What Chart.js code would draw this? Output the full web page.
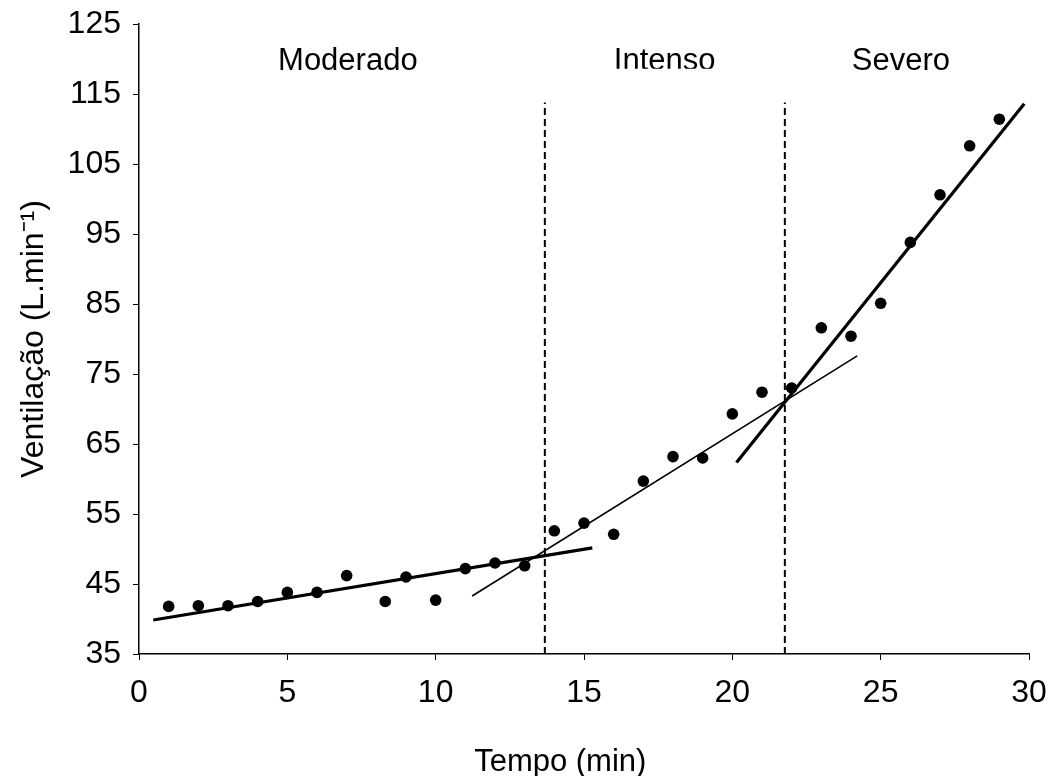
<!DOCTYPE html>
<html>
<head>
<meta charset="utf-8">
<script src="https://cdn.jsdelivr.net/npm/chart.js@4.4.1/dist/chart.umd.min.js"></script>
<style>
  html, body { margin: 0; padding: 0; background: #fff; }
  canvas { display: block; }
</style>
</head>
<body>
<canvas id="c" width="1056" height="776"></canvas>
<script>
// ---- data ----
const timeMin = [1, 2, 3, 4, 5, 6, 7, 8.3, 9, 10, 11, 12, 13, 14, 15, 16, 17, 18, 19, 20, 21, 22, 23, 24, 25, 26, 27, 28, 29];
const ventilation = [41.8, 41.9, 41.9, 42.5, 43.8, 43.8, 46.2, 42.5, 46.0, 42.7, 47.2, 48.0, 47.6, 52.6, 53.7, 52.1, 59.7, 63.2, 63.0, 69.3, 72.4, 73.0, 81.6, 80.4, 85.1, 93.8, 100.6, 107.6, 111.4];

const moderateFitX = [0.48, 15.28];
const moderateFitY = [39.86, 50.15];
const intenseFitX = [11.23, 24.21];
const intenseFitY = [43.29, 77.59];
const severeFitX = [20.14, 29.84];
const severeFitY = [62.34, 113.6];

const thresholdX = [13.68, 21.77];
const thresholdY = [35, 113.8];

const phaseNames = ["Moderado", "Intenso", "Severo"];
const xTicks = [0, 5, 10, 15, 20, 25, 30];
const yTicks = [35, 45, 55, 65, 75, 85, 95, 105, 115, 125];
const xTitle = "Tempo (min)";
const yTitle = "Ventilação (L.min⁻¹)";

const FONT = '"Liberation Sans", Arial, sans-serif';

function pts(xs, ys) { return xs.map((x, i) => ({ x: x, y: ys[i] })); }

const lineDs = (xs, ys, w, dash) => ({
  type: 'line',
  data: pts(xs, ys),
  borderColor: '#000',
  borderWidth: w,
  borderDash: dash || [],
  pointRadius: 0,
  showLine: true,
  fill: false,
  tension: 0
});

const datasets = [
  lineDs(moderateFitX, moderateFitY, 3.2),
  lineDs(intenseFitX, intenseFitY, 1.6),
  lineDs(severeFitX, severeFitY, 3.2),
  lineDs([thresholdX[0], thresholdX[0]], thresholdY, 2, [7, 4]),
  lineDs([thresholdX[1], thresholdX[1]], thresholdY, 2, [7, 4]),
  {
    type: 'scatter',
    data: pts(timeMin, ventilation),
    backgroundColor: '#000',
    borderColor: '#000',
    pointRadius: 5.8,
    pointBorderWidth: 0,
    showLine: false
  }
];

// phase labels and x-axis title (annotation text)
const textPlugin = {
  id: 'textLabels',
  afterDatasetsDraw(chart) {
    const ctx = chart.ctx;
    const xs = chart.scales.x, ys = chart.scales.y;
    const centres = [7.04, 17.72, 25.68];
    ctx.save();
    ctx.font = '31px ' + FONT;
    ctx.fillStyle = '#000';
    ctx.textAlign = 'center';
    ctx.textBaseline = 'alphabetic';
    phaseNames.forEach((name, i) => {
      const px = xs.getPixelForValue(centres[i]);
      const py = ys.getPixelForValue(118.4);
      ctx.save();
      if (i === 1) {
        ctx.beginPath();
        ctx.rect(px - 80, 0, 160, ys.getPixelForValue(118.6));
        ctx.clip();
      }
      ctx.fillText(name, px, py);
      ctx.restore();
    });
    // x-axis title
    ctx.font = '31px ' + FONT;
    ctx.fillText(xTitle, xs.getPixelForValue(14.2), 770.5);
    ctx.restore();
  }
};

new Chart(document.getElementById('c'), {
  type: 'scatter',
  data: { datasets },
  options: {
    responsive: false,
    devicePixelRatio: 1,
    animation: false,
    layout: { padding: { left: 0, right: 27, top: 24, bottom: 0 } },
    plugins: { legend: { display: false }, tooltip: { enabled: false } },
    scales: {
      x: {
        type: 'linear',
        min: 0, max: 30,
        afterBuildTicks(s) { s.ticks = xTicks.map(v => ({ value: v })); },
        afterFit(s) { s.height = 122; s.paddingLeft = 0; s.paddingRight = 0; },
        ticks: { color: '#000', font: { family: FONT, size: 32 }, padding: 14 },
        grid: { display: true, drawOnChartArea: false, drawTicks: true, tickLength: 6, color: '#000', lineWidth: 1 },
        border: { display: true, color: '#000', width: 1.5 },
        title: { display: false }
      },
      y: {
        type: 'linear',
        min: 35, max: 125,
        afterBuildTicks(s) { s.ticks = yTicks.map(v => ({ value: v })); },
        afterFit(s) { s.width = 139; s.paddingTop = 0; s.paddingBottom = 0; },
        ticks: { color: '#000', font: { family: FONT, size: 32 }, padding: 12 },
        grid: { display: true, drawOnChartArea: false, drawTicks: true, tickLength: 6, color: '#000', lineWidth: 1 },
        border: { display: true, color: '#000', width: 1.5 },
        title: { display: true, text: yTitle, color: '#000', font: { family: FONT, size: 32, lineHeight: 1 }, padding: { top: 18, bottom: 0 } }
      }
    }
  },
  plugins: [textPlugin]
});
</script>
</body>
</html>
